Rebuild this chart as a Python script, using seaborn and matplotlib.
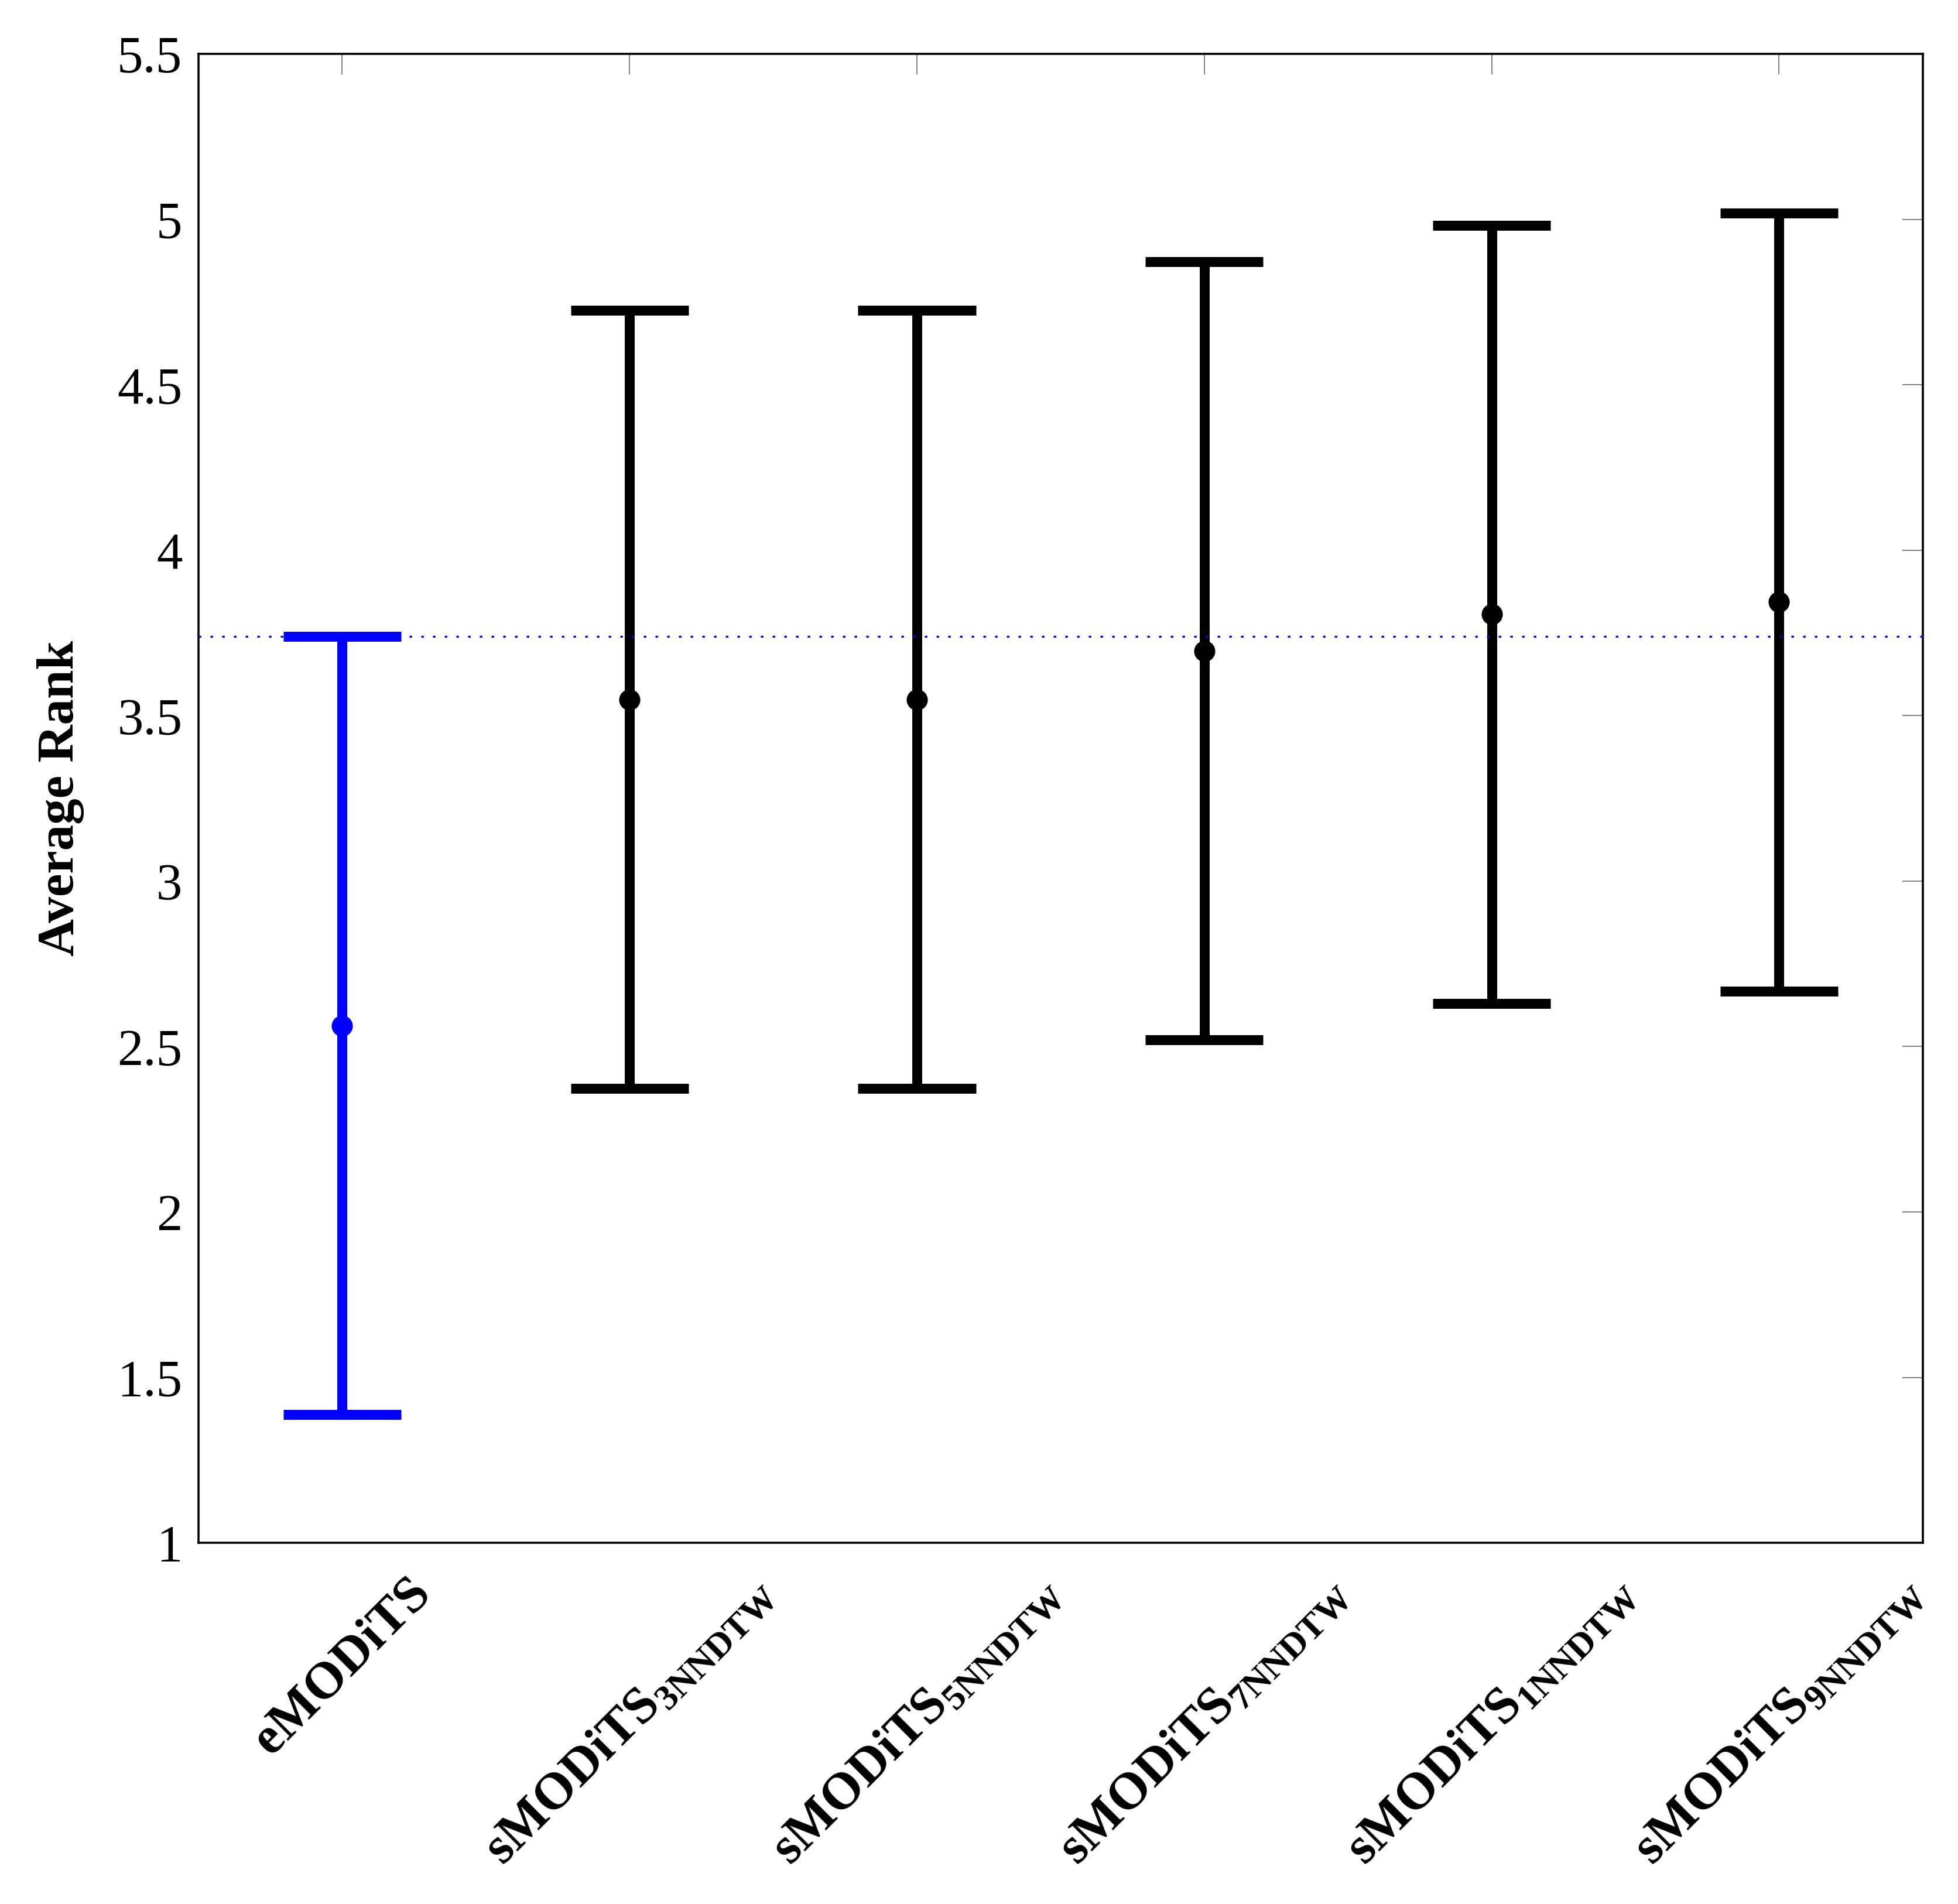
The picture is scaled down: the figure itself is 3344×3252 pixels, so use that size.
import numpy as np
import pandas as pd
import seaborn as sns
import matplotlib
import matplotlib.pyplot as plt

sns.set_style('white')
matplotlib.rcParams['font.family'] = ['Liberation Serif', 'DejaVu Serif']
matplotlib.rcParams['font.size'] = 32
matplotlib.rcParams['text.color'] = 'black'
matplotlib.rcParams['axes.labelcolor'] = 'black'
matplotlib.rcParams['xtick.labelcolor'] = 'black'
matplotlib.rcParams['ytick.labelcolor'] = 'black'

# average ranks of each method and the critical difference (Nemenyi)
methods = ['eMODiTS',
           'sMODiTS$_{\\mathregular{3NNDTW}}$',
           'sMODiTS$_{\\mathregular{5NNDTW}}$',
           'sMODiTS$_{\\mathregular{7NNDTW}}$',
           'sMODiTS$_{\\mathregular{1NNDTW}}$',
           'sMODiTS$_{\\mathregular{9NNDTW}}$']
avg_rank = [2.563, 3.549, 3.549, 3.696, 3.806, 3.843]
crit_diff = 1.176
colors = ['#0000ff', 'black', 'black', 'black', 'black', 'black']
yticks = [1, 1.5, 2, 2.5, 3, 3.5, 4, 4.5, 5, 5.5]
ytick_labels = ['1', '1.5', '2', '2.5', '3', '3.5', '4', '4.5', '5', '5.5']

# lower and upper end of the interval per method, the mean is the rank itself
rows = []
for m, r in zip(methods, avg_rank):
    rows.append({'method': m, 'rank': r - crit_diff})
    rows.append({'method': m, 'rank': r + crit_diff})
df = pd.DataFrame(rows)

fig, ax = plt.subplots(figsize=(16.72, 16.26))
fig.subplots_adjust(left=0.1014, right=0.982, top=0.9717, bottom=0.1897)

sns.pointplot(data=df, x='method', y='rank', hue='method', palette=colors,
              estimator='mean', errorbar=('pi', 100), capsize=0.41,
              linestyle='none', markers='o', markersize=13, markeredgewidth=0,
              err_kws={'linewidth': 6.1, 'solid_capstyle': 'butt'},
              legend=False, ax=ax)

# reference line: best rank + CD
ax.axhline(avg_rank[0] + crit_diff, color='#0000ff', linestyle=(0, (1.3, 4.7)),
           linewidth=1.2, zorder=5)

ax.set_xlim(-0.5, 5.5)
ax.set_ylim(1, 5.5)
ax.set_yticks(yticks)
ax.set_yticklabels(ytick_labels)
ax.set_xlabel('')
ax.set_ylabel('Average Rank', fontweight='bold', labelpad=20)

ax.tick_params(which='both', direction='in', length=12.6, width=0.7, color='gray',
               top=True, right=True)
ax.tick_params(axis='y', pad=10)
ax.tick_params(axis='x', pad=16)
for lab in ax.get_xticklabels():
    lab.set_rotation(45)
    lab.set_ha('center')
    lab.set_va('top')
    lab.set_fontweight('bold')

for sp in ax.spines.values():
    sp.set_color('black')
    sp.set_linewidth(1.3)

fig.savefig('out.png', dpi=200)
